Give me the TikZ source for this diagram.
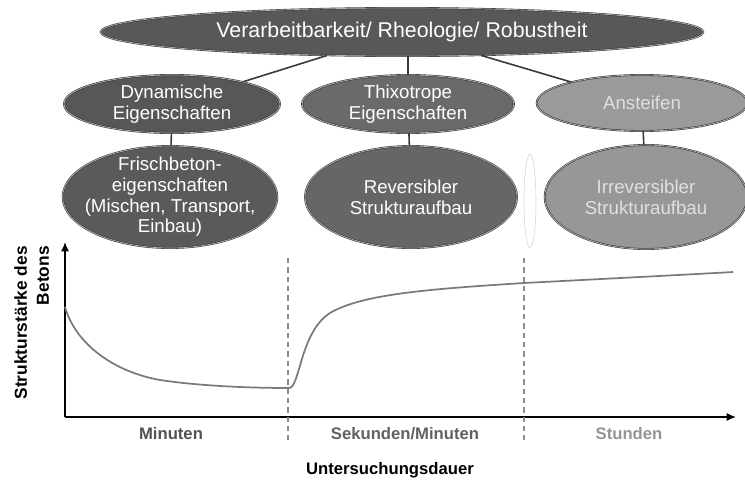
\documentclass[tikz,border=0pt]{standalone}
\usepackage{fontspec}
\setmainfont{Liberation Sans}
\usetikzlibrary{shapes.geometric,arrows.meta}
\definecolor{cTop}{HTML}{585858}
\definecolor{cDyn}{HTML}{575757}
\definecolor{cThx}{HTML}{6A6A6A}
\definecolor{cAns}{HTML}{9A9A9A}
\definecolor{cFri}{HTML}{5A5A5A}
\definecolor{cRev}{HTML}{666666}
\definecolor{cIrr}{HTML}{979797}
\definecolor{cEdge}{HTML}{3A3A3A}
\definecolor{cRim}{HTML}{B8B8B8}
\definecolor{cCurve}{HTML}{7A7A7A}
\tikzset{
  oval/.style={ellipse, inner sep=-20pt, draw=cEdge, line width=0.45pt,
    double=cRim, double distance=0.5pt, align=center,
    font=\fontsize{14}{15.5}\selectfont, text=white},
  link/.style={draw=cEdge, line width=1.2pt},
  axisline/.style={line width=1.1pt, -{Latex[length=7pt,width=6pt]}},
  sep/.style={draw=gray!90, dashed, line width=0.8pt, dash pattern=on 4pt off 3pt},
  timelabel/.style={font=\bfseries\fontsize{12.5}{14}\selectfont},
}
\begin{document}
\begin{tikzpicture}[x=0.75pt,y=-0.75pt]
\useasboundingbox (0,0) rectangle (745,482);
% nodes
\node[oval, fill=cTop, minimum width=452pt, minimum height=36pt, inner sep=-60pt, font=\fontsize{16}{18}\selectfont] (top) at (402,32) {Verarbeitbarkeit/ Rheologie/ Robustheit};
\node[oval, fill=cDyn, minimum width=162pt, minimum height=43.5pt] (dyn) at (172,104) {Dynamische\\Eigenschaften};
\node[oval, fill=cThx, minimum width=159pt, minimum height=43.5pt] (thx) at (408,104) {Thixotrope\\Eigenschaften};
\node[oval, fill=cAns, minimum width=158pt, minimum height=42pt, text=black!12] (ans) at (642,103) {Ansteifen};
\node[oval, fill=cFri, minimum width=161pt, minimum height=76.5pt, inner sep=-30pt] (fri) at (170,197) {Frischbeton-\\eigenschaften\\(Mischen, Transport,\\Einbau)};
\node[oval, fill=cRev, minimum width=159pt, minimum height=76.5pt] (rev) at (411,197) {Reversibler\\Strukturaufbau};
\node[ellipse, draw=gray!35, fill=white, line width=0.4pt, minimum width=9pt, minimum height=70pt, inner sep=0pt] (thin) at (530,201) {};
\node[oval, fill=cIrr, minimum width=152pt, minimum height=78pt, text=black!12] (irr) at (646,197) {Irreversibler\\Strukturaufbau};
% connectors
\draw[link] (top) -- (dyn);
\draw[link] (top) -- (ans);
\draw[link] (thx.north) -- (thx.north |- top.south);
\draw[link] (dyn) -- (fri);
\draw[link] (thx) -- (rev);
\draw[link] (ans) -- (irr);
% axes
\coordinate (o) at (65,417);
\coordinate (ytip) at (65,242);
\coordinate (xtip) at (736,417);
\draw[axisline] (o) -- (ytip);
\draw[axisline] (o) -- (xtip);
% separators
\coordinate (s1a) at (288,258); \coordinate (s1b) at (288,440);
\coordinate (s2a) at (524,258); \coordinate (s2b) at (524,440);
\draw[sep] (s1a) -- (s1b);
\draw[sep] (s2a) -- (s2b);
% curve
\draw[cCurve, line width=1.3pt]
  (65,307) .. controls (76,345) and (115,372) .. (160,380)
  .. controls (200,386) and (250,388) .. (289,388)
  .. controls (300,388) and (300,332) .. (330,313)
  .. controls (362,294) and (430,289) .. (524,283)
  .. controls (620,278) and (680,275) .. (733,272);
% labels
\node[timelabel, text=black!68] (lm) at (171,434) {Minuten};
\node[timelabel, text=black!62] (ls) at (405,434) {Sekunden/Minuten};
\node[timelabel, text=black!42] (lh) at (629,434) {Stunden};
\node[font=\bfseries\fontsize{12.5}{14}\selectfont] (lx) at (390,470) {Untersuchungsdauer};
\node[font=\bfseries\fontsize{13}{16.5}\selectfont, rotate=90, align=right, anchor=north east, inner sep=0pt] (ly) at (14,246) {Strukturstärke des\\Betons};
\end{tikzpicture}
\end{document}
